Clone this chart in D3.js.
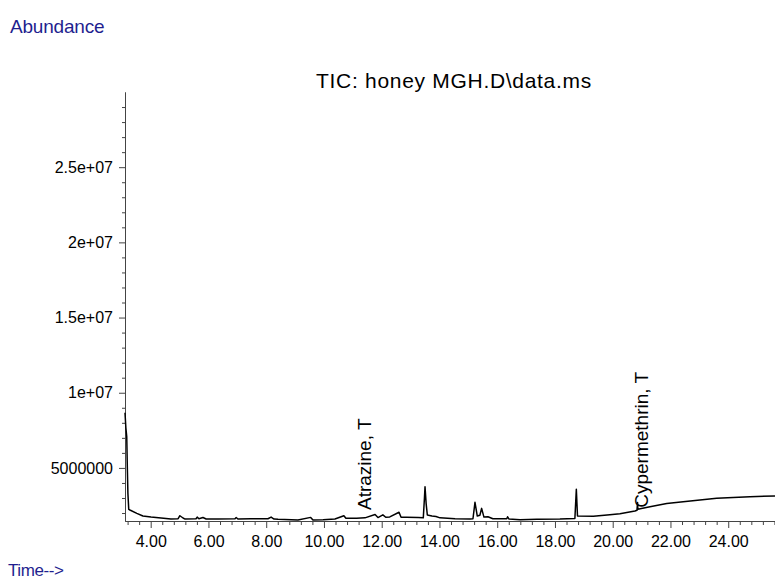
<!DOCTYPE html>
<html lang="en">
<head>
    <meta charset="UTF-8">
    <title>TIC: honey MGH.D\data.ms</title>
    <script src="https://cdn.jsdelivr.net/npm/d3@7"></script>
    <style>
        body, html {
            margin: 0;
            padding: 0;
            background: #fff;
            overflow: hidden;
        }
        svg {
            display: block;
            font-family: "Liberation Sans", Arial, sans-serif;
        }
    </style>
</head>
<body>
    <svg id="mainsvg"></svg>
    <script>
        // retention time (min) and abundance
        const times = [3.11, 3.14, 3.17, 3.19, 3.21, 3.24, 3.28, 3.52, 3.73, 4.01,
            4.36, 4.70, 4.95, 5.01, 5.12, 5.19, 5.57, 5.61, 5.67, 5.81,
            5.92, 6.33, 6.92, 6.96, 7.02, 7.47, 8.06, 8.17, 8.27, 8.41,
            9.10, 9.54, 9.62, 9.97, 10.38, 10.69, 10.76, 11.13, 11.42, 11.77,
            11.87, 12.04, 12.14, 12.28, 12.60, 12.67, 12.86, 13.26, 13.44, 13.48,
            13.50, 13.54, 13.58, 13.74, 13.88, 14.02, 14.54, 15.06, 15.16, 15.23,
            15.31, 15.40, 15.46, 15.54, 15.68, 15.85, 16.33, 16.36, 16.41, 16.79,
            17.37, 18.17, 18.69, 18.74, 18.78, 19.33, 19.90, 20.25, 20.77, 20.84,
            20.86, 20.87, 21.29, 21.87, 22.44, 23.02, 23.60, 24.17, 24.75, 25.62];
        const abundance = [8.67e6, 7.67e6, 7.09e6, 5.09e6, 3.33e6, 2.24e6, 2.20e6, 1.98e6, 1.80e6, 1.73e6,
            1.67e6, 1.60e6, 1.62e6, 1.82e6, 1.67e6, 1.60e6, 1.62e6, 1.73e6, 1.62e6, 1.70e6,
            1.60e6, 1.60e6, 1.62e6, 1.70e6, 1.60e6, 1.62e6, 1.62e6, 1.73e6, 1.60e6, 1.58e6,
            1.53e6, 1.71e6, 1.53e6, 1.55e6, 1.60e6, 1.82e6, 1.65e6, 1.66e6, 1.68e6, 1.90e6,
            1.70e6, 1.88e6, 1.72e6, 1.74e6, 2.05e6, 1.72e6, 1.72e6, 1.70e6, 1.68e6, 3.00e6,
            3.75e6, 2.60e6, 1.87e6, 1.80e6, 1.77e6, 1.68e6, 1.62e6, 1.60e6, 1.62e6, 2.71e6,
            1.80e6, 1.85e6, 2.31e6, 1.73e6, 1.75e6, 1.62e6, 1.62e6, 1.75e6, 1.60e6, 1.55e6,
            1.58e6, 1.60e6, 1.64e6, 3.58e6, 1.80e6, 1.78e6, 1.88e6, 1.95e6, 2.13e6, 2.18e6,
            2.70e6, 2.25e6, 2.42e6, 2.64e6, 2.75e6, 2.87e6, 2.98e6, 3.04e6, 3.09e6, 3.13e6];

        const yTickValues = [5e6, 1e7, 1.5e7, 2e7, 2.5e7];
        const yTickLabels = ['5000000', '1e+07', '1.5e+07', '2e+07', '2.5e+07'];
        const xTickValues = [4, 6, 8, 10, 12, 14, 16, 18, 20, 22, 24];

        const compoundNames = ['Atrazine, T', 'Cypermethrin, T'];
        const compoundTimes = [11.62, 21.22];
        const compoundAbundance = [2.2e6, 2.35e6];

        const width = 775;
        const height = 579;
        const svg = d3.select('svg').attr('width', width).attr('height', height);

        const margin = { top: 92, right: 0, bottom: 58, left: 125 };
        const innerWidth = width - margin.left - margin.right;
        const innerHeight = height - margin.top - margin.bottom;

        const mainGroup = svg.append('g')
            .attr('transform', `translate(${margin.left}, ${margin.top})`);

        const xScale = d3.scaleLinear().domain([3.11, 25.62]).range([0, innerWidth]);
        const yScale = d3.scaleLinear().domain([1.47e6, 3.0e7]).range([innerHeight, 0]);

        const blue = '#1f1f8f';
        const axisColor = '#444';

        // minor ticks
        const xMinor = d3.range(3.2, 25.61, 0.4).filter(t => Math.abs(t / 2 - Math.round(t / 2)) > 0.01);
        const yMinor = d3.range(2e6, 3.0e7 + 1, 1e6).filter(v => v % 5e6 !== 0);

        const xMinorGroup = mainGroup.append('g')
            .attr('transform', `translate(0, ${innerHeight})`)
            .call(d3.axisBottom(xScale).tickValues(xMinor).tickSize(4).tickSizeOuter(0));
        const xAxisGroup = mainGroup.append('g')
            .attr('transform', `translate(0, ${innerHeight})`)
            .call(d3.axisBottom(xScale).tickValues(xTickValues).tickFormat(d3.format('.2f')).tickSize(7).tickSizeOuter(0).tickPadding(8));

        const yMinorGroup = mainGroup.append('g')
            .call(d3.axisLeft(yScale).tickValues(yMinor).tickSize(3).tickSizeOuter(0));
        const yAxisGroup = mainGroup.append('g')
            .call(d3.axisLeft(yScale).tickValues(yTickValues)
                .tickFormat((d, i) => yTickLabels[i]).tickSize(6).tickSizeOuter(0).tickPadding(6));

        // minor axes carry no labels
        xMinorGroup.selectAll('text').remove();
        yMinorGroup.selectAll('text').remove();

        [xMinorGroup, xAxisGroup, yMinorGroup, yAxisGroup].forEach(g => {
            g.selectAll('path, line').attr('stroke', axisColor);
            g.selectAll('text').attr('fill', '#000').attr('font-size', '16px')
                .attr('font-family', '"Liberation Sans", Arial, sans-serif');
        });

        // trace
        const points = times.map((t, i) => ({ t: t, v: abundance[i] }));
        const line = d3.line().x(d => xScale(d.t)).y(d => yScale(d.v));
        mainGroup.append('path')
            .datum(points)
            .attr('d', line)
            .attr('fill', 'none')
            .attr('stroke', '#000')
            .attr('stroke-width', 1.5)
            .attr('stroke-linejoin', 'round');

        // compound labels
        mainGroup.selectAll('.compound')
            .data(compoundNames)
            .enter().append('text')
            .attr('class', 'compound')
            .attr('transform', (d, i) => `translate(${xScale(compoundTimes[i])}, ${yScale(compoundAbundance[i])}) rotate(-90)`)
            .attr('font-size', '19px')
            .attr('fill', '#000')
            .text(d => d);

        // titles
        svg.append('text')
            .attr('x', 454).attr('y', 88)
            .attr('text-anchor', 'middle')
            .attr('font-size', '21px')
            .attr('letter-spacing', '0.7px')
            .attr('fill', '#000')
            .text('TIC: honey MGH.D\\data.ms');

        svg.append('text')
            .attr('x', 10).attr('y', 33)
            .attr('font-size', '19px')
            .attr('letter-spacing', '-0.2px')
            .attr('fill', blue)
            .text('Abundance');

        svg.append('text')
            .attr('x', 8).attr('y', 576)
            .attr('font-size', '17px')
            .attr('letter-spacing', '-0.4px')
            .attr('fill', blue)
            .text('Time-->');
    </script>
</body>
</html>
